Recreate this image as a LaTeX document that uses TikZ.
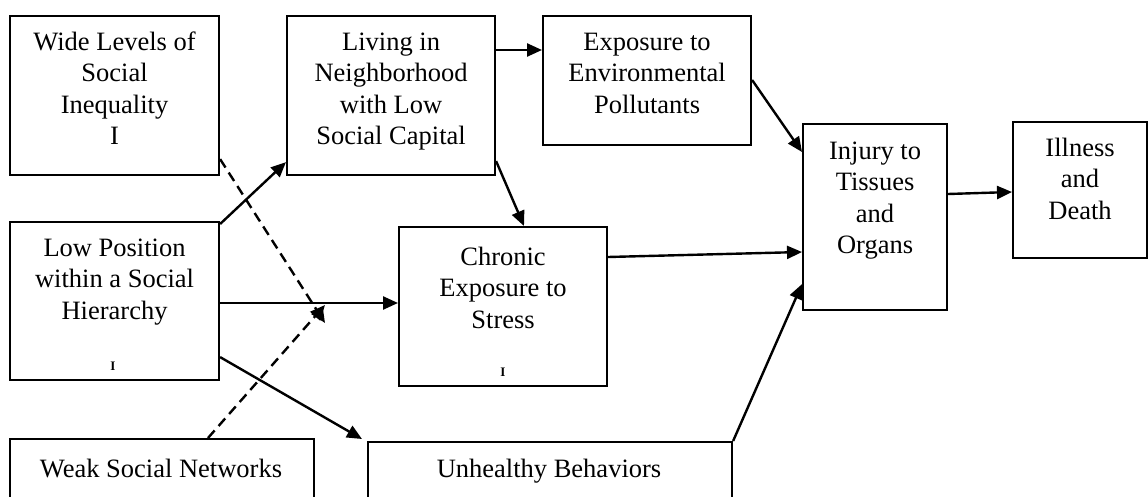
\documentclass[tikz,border=0pt]{standalone}
\usepackage{fontspec}
\setmainfont{Liberation Serif}
\usetikzlibrary{arrows.meta,calc}
\begin{document}
\begin{tikzpicture}[x=1pt,y=-1pt,
  box/.style={draw,line width=2.1pt,inner sep=0pt,anchor=north west},
  lbl/.style={anchor=north,align=center,inner sep=0pt,font=\fontsize{26.5}{31.5}\selectfont},
  one/.style={anchor=base,inner sep=0pt,font=\fontsize{26.5}{31.5}\selectfont},
  tiny/.style={anchor=base,inner sep=0pt,font=\fontsize{13}{13}\selectfont\bfseries},
  arr/.style={line width=2.4pt,-{Triangle[length=15pt,width=13pt]}},
  dsh/.style={arr,dash pattern=on 10pt off 6pt}]
\useasboundingbox (0,0) rectangle (1148,497);
\clip (0,0) rectangle (1148,497);
\fill[white] (0,0) rectangle (1148,497);

% boxes
\node[box,minimum width=209pt,minimum height=159pt] (wide) at (9,15) {};
\node[box,minimum width=208pt,minimum height=159pt] (living) at (286,15) {};
\node[box,minimum width=208pt,minimum height=129pt] (expo) at (542,15) {};
\node[box,minimum width=144pt,minimum height=186pt] (injury) at (802,123) {};
\node[box,minimum width=134pt,minimum height=136pt] (illness) at (1012,121) {};
\node[box,minimum width=209pt,minimum height=158pt] (low) at (9,221) {};
\node[box,minimum width=208pt,minimum height=159pt] (chronic) at (398,226) {};
\node[box,minimum width=304pt,minimum height=80pt] (weak) at (9,438) {};
\node[box,minimum width=364pt,minimum height=80pt] (unhealthy) at (367,441) {};

% texts
\node[lbl] (wideT) at ([yshift=-13pt]wide.north) {\strut Wide Levels of\\Social\\Inequality\\I};
\node[lbl] (livingT) at ([yshift=-13pt]living.north) {\strut Living in\\Neighborhood\\with Low\\Social Capital};
\node[lbl] (expoT) at ([yshift=-13pt]expo.north) {\strut Exposure to\\Environmental\\Pollutants};
\node[lbl] (injuryT) at ([yshift=-14pt]injury.north) {\strut Injury to\\Tissues\\and\\Organs};
\node[lbl] (illnessT) at ([yshift=-13pt]illness.north) {\strut Illness\\and\\Death};
\node[lbl] (lowT) at ([yshift=-13pt]low.north) {\strut Low Position\\within a Social\\Hierarchy};
\node[lbl] (chronicT) at ([yshift=-17pt]chronic.north) {\strut Chronic\\Exposure to\\Stress};
\node[one] (weakT) at (161,477) {Weak Social Networks};
\node[one] (unhealthyT) at (549,477) {Unhealthy Behaviors};
\node[tiny] (lowI) at (113,370) {I};
\node[tiny] (chronicI) at (503,376) {I};

% junction coordinates of dashed arrows
\coordinate (j1) at (325,323);
\coordinate (j2) at (325,305);

% connectors
\draw[arr] ([yshift=-3pt]low.north east) -- ([yshift=14pt]living.south west);
\draw[arr] ([yshift=-35pt]living.north east) -- ([yshift=-35pt]expo.north west);
\draw[arr] ([yshift=15pt]living.south east) -- ([xshift=126pt]chronic.north west);
\draw[arr] ([yshift=-65pt]expo.north east) -- ([yshift=-29pt]injury.north west);
\draw[arr] ([yshift=-31pt]chronic.north east) -- ([yshift=-129pt]injury.north west);
\draw[arr] (unhealthy.north east) -- ([yshift=27pt]injury.south west);
\draw[arr] ([yshift=-71pt]injury.north east) -- ([yshift=-71pt]illness.north west);
\draw[arr] ([yshift=-82pt]low.north east) -- ([yshift=-77pt]chronic.north west);
\draw[arr] ([yshift=24pt]low.south east) -- ([xshift=-5pt,yshift=2pt]unhealthy.north west);
\draw[dsh] ([yshift=17pt]wide.south east) -- (j1);
\draw[dsh] ([xshift=199pt]weak.north west) -- (j2);
\end{tikzpicture}
\end{document}
